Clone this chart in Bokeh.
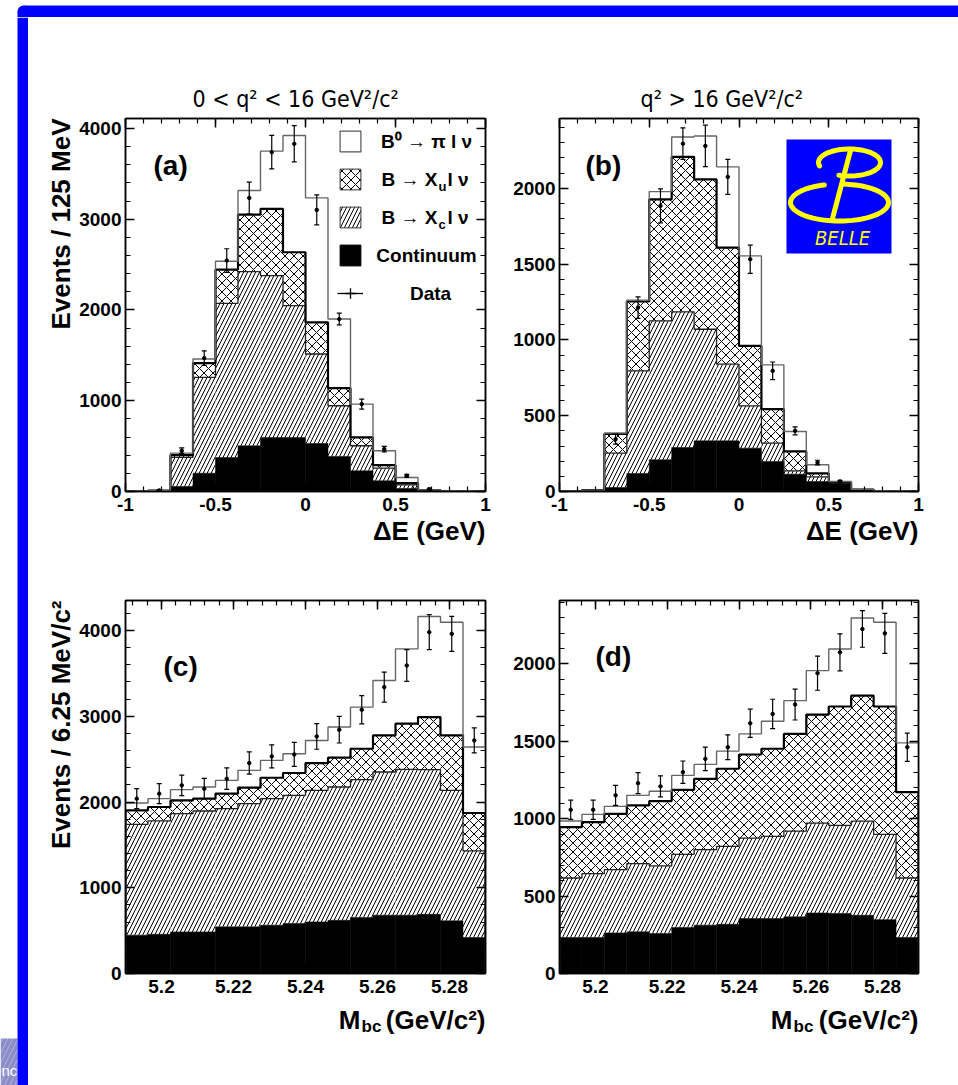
import numpy as np
from bokeh.plotting import figure
from bokeh.models import (Range1d, LinearAxis, SingleIntervalTicker, NumeralTickFormatter,
                          CustomJSTickFormatter, ColumnDataSource, Label, Legend, LegendItem,
                          Whisker, TeeHead, Title)
from bokeh.layouts import row, column
from bokeh.core.properties import value
from bokeh.embed import file_html
from bokeh.resources import INLINE

nan = float("nan")

# ---------------- binning ----------------
DE_EDGES = np.linspace(-1.0, 1.0, 17)      # 125 MeV bins
MBC_EDGES = np.linspace(5.19, 5.29, 17)    # 6.25 MeV/c^2 bins

# ---------------- (a) Delta E, 0 < q2 < 16 ----------------
a_cont = [0, 3, 55, 202, 375, 504, 596, 596, 529, 386, 228, 118, 33, 8, 0, 0]
a_xc = [0, 5, 320, 1055, 1699, 1919, 1783, 1452, 986, 559, 276, 139, 41, 6, 0, 0]
a_xu = [0, 1, 25, 158, 371, 628, 735, 588, 349, 195, 92, 33, 18, 2, 0, 0]
a_pi = [0, 3, 23, 45, 92, 265, 636, 1287, 1371, 760, 367, 159, 62, 2, 0, 0]
a_data = [nan, 12, 450, 1470, 2545, 3235, 3739, 3831, 3103, 1900, 963, 467, 173, 26, nan, nan]
a_err = [0, 5, 30, 80, 130, 175, 185, 200, 165, 65, 55, 30, 15, 8, 0, 0]

# ---------------- (b) Delta E, q2 > 16 ----------------
b_cont = [0, 5, 26, 119, 209, 290, 334, 334, 286, 198, 114, 66, 53, 11, 0, 0]
b_xc = [0, 3, 227, 677, 916, 895, 736, 506, 279, 121, 22, 31, 5, 1, 0, 0]
b_xu = [0, 1, 127, 457, 802, 1022, 989, 769, 395, 224, 128, 22, 2, 1, 0, 0]
b_pi = [0, 0, 5, 9, 51, 131, 286, 532, 594, 292, 132, 57, 6, 2, 0, 0]
b_data = [nan, nan, 345, 1213, 1884, 2294, 2279, 2075, 1532, 796, 400, 191, 66, nan, nan, nan]
b_err = [0, 0, 33, 71, 112, 104, 137, 115, 93, 58, 26, 15, 8, 0, 0, 0]

# ---------------- (c) Mbc, 0 < q2 < 16 ----------------
c_cont = [447, 458, 485, 485, 544, 544, 563, 583, 602, 621, 652, 680, 680, 691, 614, 419]
c_xc = [1293, 1321, 1379, 1410, 1378, 1437, 1476, 1495, 1534, 1554, 1608, 1670, 1701, 1686, 1522, 1010]
c_xu = [163, 163, 155, 144, 175, 186, 244, 260, 318, 342, 361, 427, 532, 613, 641, 443]
c_pi = [85, 97, 125, 136, 155, 202, 202, 225, 264, 357, 486, 640, 873, 1173, 1320, 769]
c_data = [2039, 2097, 2194, 2155, 2272, 2454, 2532, 2555, 2765, 2843, 3076, 3340, 3592, 3981, 3961, 2718]
c_err = [117, 117, 120, 120, 125, 130, 135, 140, 150, 155, 165, 175, 185, 204, 204, 146]

# ---------------- (d) Mbc, q2 > 16 ----------------
d_cont = [232, 232, 262, 269, 258, 297, 312, 318, 355, 355, 366, 391, 387, 376, 348, 232]
d_xc = [385, 413, 409, 441, 437, 473, 488, 504, 520, 531, 554, 581, 570, 609, 551, 385]
d_xu = [329, 333, 361, 376, 419, 417, 458, 501, 540, 566, 628, 701, 768, 811, 826, 555]
d_pi = [39, 50, 48, 65, 64, 93, 93, 114, 133, 178, 215, 284, 372, 501, 544, 318]
d_data = [1058, 1058, 1151, 1230, 1209, 1301, 1387, 1462, 1617, 1677, 1738, 1940, 2075, 2226, 2198, 1462]
d_err = [62, 62, 65, 68, 68, 72, 76, 80, 91, 95, 100, 110, 120, 118, 129, 91]

# ---------------- text ----------------
TITLE_A = "0 < q² < 16 GeV²/c²"
TITLE_B = "q² > 16 GeV²/c²"
YLAB_DE = "Events / 125 MeV"
YLAB_MBC = "Events / 6.25 MeV/c²"
XLAB_DE = "ΔE (GeV)"

FONT = "Liberation Sans"
NARROW = "'Liberation Sans Narrow', 'DejaVu Sans Condensed', 'Liberation Sans', sans-serif"
BLUE = "#0000ff"


def lab(p, x, y, text, size, style="bold", align="left", baseline="middle",
        angle=0.0, font=FONT, color="black"):
    p.add_layout(Label(x=x, y=y, x_units="screen", y_units="screen", text=text,
                       text_font=font, text_font_size=f"{size}px", text_font_style=style,
                       text_align=align, text_baseline=baseline, angle=angle,
                       text_color=color))


def side_title(p, text, place, size, align, standoff, offset=0, style="bold", font=FONT):
    p.add_layout(Title(text=text, align=align, standoff=standoff, offset=offset,
                       text_font=font, text_font_size=f"{size}px",
                       text_font_style=style, text_color="black"), place)


def make_panel(xr, yr, fw, fh, borders, xint, yint, xfmt):
    p = figure(x_range=Range1d(*xr), y_range=Range1d(*yr), frame_width=fw, frame_height=fh,
               min_border_left=borders[0], min_border_right=borders[1],
               min_border_top=borders[2], min_border_bottom=borders[3],
               x_axis_type=None, y_axis_type=None, toolbar_location=None,
               title_location=None, output_backend="svg")
    p.outline_line_color = "black"
    p.outline_line_width = 1.5
    p.background_fill_color = "white"
    p.border_fill_color = "white"
    for loc in ("below", "left", "above", "right"):
        is_x = loc in ("below", "above")
        ax = LinearAxis(ticker=SingleIntervalTicker(interval=xint if is_x else yint,
                                                    num_minor_ticks=5),
                        formatter=NumeralTickFormatter(format=xfmt if is_x else "0"))
        ax.axis_line_color = "black"
        ax.axis_line_width = 1.5
        ax.major_tick_in = 9
        ax.major_tick_out = 0
        ax.minor_tick_in = 5
        ax.minor_tick_out = 0
        ax.major_tick_line_width = 1.5
        ax.minor_tick_line_width = 1.2
        ax.major_tick_line_color = "black"
        ax.minor_tick_line_color = "black"
        ax.major_label_text_font = FONT
        ax.major_label_text_font_style = "bold"
        ax.major_label_text_font_size = "19px"
        ax.major_label_text_color = "black"
        ax.major_label_standoff = 6 if is_x else 4
        if loc in ("above", "right"):
            ax.formatter = CustomJSTickFormatter(code="return ''")
            ax.major_label_standoff = 0
        p.add_layout(ax, loc)
    return p


def draw_stack(p, edges, cont, xc, xu, pi, data, err):
    c1 = np.array(cont, dtype=float)
    c2 = c1 + np.array(xc, dtype=float)
    c3 = c2 + np.array(xu, dtype=float)
    c4 = c3 + np.array(pi, dtype=float)
    src = ColumnDataSource(dict(left=edges[:-1], right=edges[1:], c0=np.zeros(len(c1)),
                                c1=c1, c2=c2, c3=c3, c4=c4))
    p.quad(left="left", right="right", bottom="c3", top="c4", source=src,
           fill_color="white", line_color=None)
    p.quad(left="left", right="right", bottom="c2", top="c3", source=src,
           fill_color="white", hatch_pattern="x", hatch_color="black",
           hatch_scale=9, hatch_weight=1.0, line_color=None)
    p.quad(left="left", right="right", bottom="c1", top="c2", source=src,
           fill_color="white", hatch_pattern="/", hatch_color="black",
           hatch_scale=8, hatch_weight=1.0, line_color=None)
    p.quad(left="left", right="right", bottom="c0", top="c1", source=src,
           fill_color="black", line_color="black", line_width=0.5)
    xs = np.concatenate([[edges[0]], edges])
    p.step(xs, np.concatenate([[0], c2, [0]]), mode="after", line_color="#222222", line_width=1.3)
    p.step(xs, np.concatenate([[0], c3, [0]]), mode="after", line_color="black", line_width=2.2)
    p.step(xs, np.concatenate([[0], c4, [0]]), mode="after", line_color="#666666", line_width=1.4)

    d = np.array(data, dtype=float)
    e = np.array(err, dtype=float)
    centers = 0.5 * (edges[:-1] + edges[1:])
    m = ~np.isnan(d)
    dsrc = ColumnDataSource(dict(x=centers[m], y=d[m], lo=d[m] - e[m], hi=d[m] + e[m]))
    w = Whisker(source=dsrc, base="x", lower="lo", upper="hi", dimension="height",
                line_color="black", line_width=1.2,
                upper_head=TeeHead(size=5, line_color="black", line_width=1.2),
                lower_head=TeeHead(size=5, line_color="black", line_width=1.2))
    w.level = "annotation"
    p.add_layout(w)
    p.scatter("x", "y", source=dsrc, marker="circle", size=3.5, color="black")


# ---------------- panels ----------------
fa = make_panel((-1, 1), (0, 4110), 360, 373, (97, 20, 101, 59), 0.5, 1000, "0.[0]")
fb = make_panel((-1, 1), (0, 2460), 359, 373, (54, 40, 101, 59), 0.5, 500, "0.[0]")
fc = make_panel((5.19, 5.29), (0, 4350), 360, 373, (97, 20, 50, 30), 0.02, 1000, "0.0[0]")
fd = make_panel((5.19, 5.29), (0, 2410), 359, 373, (54, 40, 50, 30), 0.02, 500, "0.0[0]")

draw_stack(fa, DE_EDGES, a_cont, a_xc, a_xu, a_pi, a_data, a_err)
draw_stack(fb, DE_EDGES, b_cont, b_xc, b_xu, b_pi, b_data, b_err)
draw_stack(fc, MBC_EDGES, c_cont, c_xc, c_xu, c_pi, c_data, c_err)
draw_stack(fd, MBC_EDGES, d_cont, d_xc, d_xu, d_pi, d_data, d_err)

# ---------------- legend in (a) ----------------
qsrc = ColumnDataSource(dict(left=[nan], right=[nan], top=[nan], bottom=[nan]))
r_pi = fa.quad(left="left", right="right", top="top", bottom="bottom", source=qsrc,
               fill_color="white", line_color="#555555", line_width=1.2)
r_xu = fa.quad(left="left", right="right", top="top", bottom="bottom", source=qsrc,
               fill_color="white", hatch_pattern="x", hatch_color="black", hatch_scale=9,
               hatch_weight=1.0, line_color="#333333", line_width=1.0)
r_xc = fa.quad(left="left", right="right", top="top", bottom="bottom", source=qsrc,
               fill_color="white", hatch_pattern="/", hatch_color="black", hatch_scale=8,
               hatch_weight=1.0, line_color="#333333", line_width=1.0)
r_co = fa.quad(left="left", right="right", top="top", bottom="bottom", source=qsrc,
               fill_color="black", line_color="black")
ssrc = ColumnDataSource(dict(x0=[nan], y0=[nan], x1=[nan], y1=[nan]))
r_ds = fa.segment("x0", "y0", "x1", "y1", source=ssrc, line_color="black", line_width=1.3)
psrc = ColumnDataSource(dict(x=[nan], y=[nan]))
r_dp = fa.scatter("x", "y", source=psrc, marker="cross", size=12, line_color="black",
                  line_width=1.3)
leg = Legend(items=[LegendItem(label=" ", renderers=[r_pi]),
                    LegendItem(label=" ", renderers=[r_xu]),
                    LegendItem(label=" ", renderers=[r_xc]),
                    LegendItem(label=" ", renderers=[r_co]),
                    LegendItem(label=" ", renderers=[r_ds, r_dp])],
             location=(212, 185), glyph_width=26, glyph_height=26, spacing=12,
             padding=0, margin=0, label_standoff=0, label_width=0, label_height=26,
             label_text_font_size="8px", background_fill_alpha=0, border_line_alpha=0)
fa.add_layout(leg)

lab(fa, 301, 350, "B⁰ → π l ν", 19, align="center")
lab(fa, 312, 312, "B → X", 19, align="right")
lab(fa, 313, 305, "u", 13, align="left")
lab(fa, 322, 312, "l ν", 19, align="left")
lab(fa, 312, 274, "B → X", 19, align="right")
lab(fa, 313, 267, "c", 13, align="left")
lab(fa, 322, 274, "l ν", 19, align="left")
lab(fa, 301, 236, "Continuum", 19, align="center")
lab(fa, 305, 198, "Data", 19, align="center")

# ---------------- titles, axis titles, panel letters ----------------
side_title(fa, TITLE_A, "above", 23, "left", 14, offset=67, style="normal", font=NARROW)
side_title(fb, TITLE_B, "above", 23, "left", 14, offset=81, style="normal", font=NARROW)

side_title(fa, YLAB_DE, "left", 26, "right", 2)
side_title(fc, YLAB_MBC, "left", 26, "right", 2)

side_title(fa, XLAB_DE, "below", 26, "right", 0)
side_title(fb, XLAB_DE, "below", 26, "right", 0)

lab(fa, 28, 326, "(a)", 28)
lab(fb, 26, 326, "(b)", 28)
lab(fc, 38, 307, "(c)", 28)
lab(fd, 36, 317, "(d)", 28)

# ---------------- BELLE logo in (b), frame-pixel coordinates ----------------
fb.extra_x_ranges = {"px": Range1d(0, 359)}
fb.extra_y_ranges = {"py": Range1d(373, 0)}
fb.quad(left=[227], right=[332], top=[21], bottom=[135], fill_color=BLUE, line_color=None,
        x_range_name="px", y_range_name="py")
t_up = np.radians(np.linspace(195, -110, 80))
fb.line(290 + 31 * np.cos(t_up), 44 - 13.5 * np.sin(t_up), line_color="#ffff00",
        line_width=5, line_cap="round", x_range_name="px", y_range_name="py")
t_lo = np.radians(np.linspace(108, 445, 100))
fb.line(280 + 49 * np.cos(t_lo), 84 - 18.5 * np.sin(t_lo), line_color="#ffff00",
        line_width=5, line_cap="round", x_range_name="px", y_range_name="py")
fb.line([291, 273], [32, 100], line_color="#ffff00", line_width=5, line_cap="round",
        x_range_name="px", y_range_name="py")
fb.text(x=[283], y=[119], text=["BELLE"], text_color="#ffff00",
        text_font=value(NARROW), text_font_style="italic",
        text_font_size="20px", text_align="center", text_baseline="middle",
        x_range_name="px", y_range_name="py")

# ---------------- M_bc axis titles (strip under the lower panels, page pixels) ----------------
bottom = figure(x_range=Range1d(28, 958), y_range=Range1d(1085, 1003), frame_width=930,
                frame_height=82, min_border=0, x_axis_type=None, y_axis_type=None,
                toolbar_location=None, title_location=None, output_backend="svg")
bottom.outline_line_color = None
for xm, xr_ in ((360, 485), (792, 918)):
    bottom.text(x=[xm], y=[1019], text=["M"], text_font=value(FONT), text_font_style="bold",
                text_font_size="26px", text_align="right", text_baseline="middle")
    bottom.text(x=[xm + 1], y=[1026], text=["bc"], text_font=value(FONT),
                text_font_style="bold", text_font_size="17px", text_align="left",
                text_baseline="middle")
    bottom.text(x=[xr_], y=[1019], text=["(GeV/c²)"], text_font=value(FONT),
                text_font_style="bold", text_font_size="26px", text_align="right",
                text_baseline="middle")

# ---------------- page frame (blue border) ----------------
top = figure(x_range=Range1d(0, 958), y_range=Range1d(17, 0), frame_width=958,
             frame_height=17, min_border=0, x_axis_type=None, y_axis_type=None,
             toolbar_location=None, title_location=None, output_backend="svg")
top.outline_line_color = None
top.quad(left=[23], right=[958], top=[5], bottom=[17], fill_color=BLUE, line_color=None)
top.quad(left=[17], right=[28], top=[11], bottom=[17], fill_color=BLUE, line_color=None)
top.circle(x=[23], y=[11], radius=6, fill_color=BLUE, line_color=None)

left = figure(x_range=Range1d(0, 28), y_range=Range1d(1085, 17), frame_width=28,
              frame_height=1068, min_border=0, x_axis_type=None, y_axis_type=None,
              toolbar_location=None, title_location=None, output_backend="svg")
left.outline_line_color = None
left.quad(left=[0], right=[17], top=[1038], bottom=[1085], fill_color="#8c8cc8",
          line_color=None, hatch_pattern="/", hatch_color="white", hatch_alpha=0.3,
          hatch_scale=10)
left.text(x=[1], y=[1070], text=["nc"], text_color="white",
          text_font=value("Liberation Sans"), text_font_size="15px",
          text_baseline="alphabetic")
left.quad(left=[17], right=[28], top=[17], bottom=[1085], fill_color=BLUE, line_color=None)
left.segment(x0=[28.5], y0=[17], x1=[28.5], y1=[1085], line_color="#8080ff", line_width=1)

layout = column(top, row(left, column(row(fa, fb), row(fc, fd), bottom)))

with open("out.html", "w") as fh:
    fh.write(file_html(layout, INLINE))
